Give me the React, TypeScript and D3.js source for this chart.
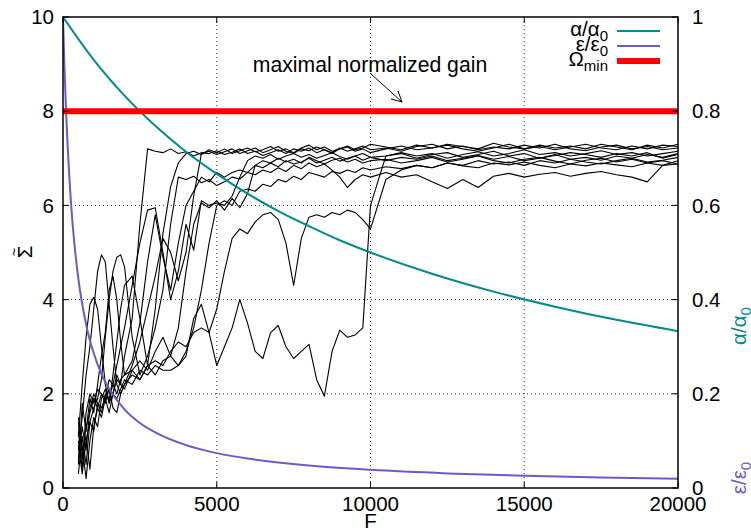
import React from 'react';
import * as d3 from 'd3';

const W = 751;
const H = 531;
const PLOT = { left: 63, right: 678, top: 17, bottom: 488 };
const FONT = '"Liberation Sans", Arial, Helvetica, sans-serif';

// Sampling positions (F) shared by all the Σ̃ runs
const fGrid = [
  500, 625, 750, 875, 1000, 1125, 1250, 1375, 1500, 1625, 1750, 1875, 2000,
  2250, 2500, 2750, 3000, 3250, 3500, 3750, 4000, 4250, 4500, 4750, 5000, 5250, 5500, 5750,
  6000, 6250, 6500, 6750, 7000, 7250, 7500, 7750, 8000, 8250, 8500, 8750, 9000, 9250, 9500, 9750, 10000,
  10500, 11000, 11500, 12000, 12500, 13000, 13500, 14000, 14500, 15000, 15500, 16000, 16500,
  17000, 17500, 18000, 18500, 19000, 19500, 20000,
];

// Σ̃ for each run, one value per fGrid entry
const run1 = [
  1.0, 0.6, 1.3, 1.6, 1.9, 1.7, 2.0, 1.8, 2.1, 2.0, 2.3, 2.2, 2.8,
  3.6, 5.6, 7.2, 7.15, 7.12, 7.2, 7.1, 7.14, 7.05, 7.12, 7.1, 7.16, 7.08, 7.13, 7.2, 7.1, 7.15, 7.06, 7.12,
  7.18, 7.1, 7.2, 7.15, 7.22, 7.12, 7.18, 7.1, 7.2, 7.24, 7.15, 7.2, 7.12,
  7.2, 7.26, 7.18, 7.22, 7.28, 7.2, 7.15, 7.22, 7.3, 7.2, 7.25, 7.18, 7.24, 7.3, 7.22, 7.18, 7.26, 7.2, 7.28, 7.25,
];
const run2 = [
  0.8, 1.5, 2.4, 3.0, 3.8, 4.6, 4.95, 4.8, 3.9, 3.0, 2.2, 2.0, 2.2,
  2.6, 3.1, 3.8, 4.5, 5.3, 5.0, 4.4, 5.0, 6.2, 7.1, 7.15, 7.08, 7.14, 7.2, 7.1, 7.16, 7.22, 7.12, 7.18,
  7.25, 7.15, 7.1, 7.2, 7.16, 7.24, 7.18, 7.12, 7.22, 7.15, 7.2, 7.26, 7.18,
  7.22, 7.15, 7.25, 7.3, 7.2, 7.26, 7.18, 7.24, 7.2, 7.28, 7.22, 7.3, 7.2, 7.16, 7.24, 7.28, 7.2, 7.25, 7.18, 7.22,
];
const run3 = [
  0.3, 1.1, 0.5, 1.4, 1.7, 1.9, 2.3, 3.2, 4.0, 4.6, 4.9, 4.95, 4.7,
  3.2, 2.4, 2.8, 3.4, 4.2, 5.6, 6.6, 6.55, 6.62, 6.48, 6.55, 6.42, 6.5, 6.6, 6.56, 6.7, 6.65, 6.75, 6.7,
  6.8, 6.72, 6.85, 6.78, 6.9, 6.82, 6.88, 6.75, 6.6, 6.38, 6.55, 6.65, 6.6,
  6.7, 6.6, 6.65, 6.5, 6.36, 6.55, 6.38, 6.62, 6.68, 6.6, 6.66, 6.7, 6.62, 6.68, 6.72, 6.65, 6.6, 6.5, 6.85, 6.95,
];
const run4 = [
  1.2, 0.4, 1.6, 2.0, 1.8, 2.1, 2.0, 1.9, 2.3, 2.2, 2.6, 3.0, 3.4,
  4.3, 5.2, 5.9, 5.95, 5.0, 4.0, 4.6, 5.6, 5.05, 6.1, 6.0, 6.05, 6.0, 6.2, 6.6, 6.95, 7.05, 7.0, 7.08,
  6.98, 7.05, 7.1, 7.02, 7.08, 7.0, 7.06, 7.12, 7.04, 6.98, 7.05, 7.1, 7.02,
  7.05, 7.1, 7.0, 7.08, 7.12, 7.02, 7.08, 7.15, 7.05, 7.1, 7.0, 7.06, 7.12, 7.08, 7.02, 7.1, 7.05, 7.12, 7.0, 7.08,
];
const run5 = [
  1.5, 0.9, 0.2, 1.0, 1.5, 1.3, 1.9, 2.1, 1.8, 2.0, 2.4, 2.2, 2.1,
  2.5, 2.7, 2.5, 2.9, 3.2, 2.8, 3.4, 4.6, 5.6, 6.05, 5.95, 6.1, 5.9, 6.15, 5.95, 6.25, 6.85, 6.95, 6.9,
  7.0, 6.92, 6.98, 6.9, 7.02, 6.95, 6.88, 6.96, 7.0, 6.92, 6.98, 6.9, 6.95,
  6.98, 6.9, 6.95, 7.02, 6.92, 6.98, 7.05, 6.95, 6.9, 6.98, 7.02, 6.94, 6.88, 6.96, 7.0, 6.92, 6.98, 6.9, 6.95, 6.88,
];
const run6 = [
  0.6, 1.3, 0.8, 1.7, 2.0, 1.8, 1.6, 2.0, 1.9, 2.2, 2.0, 2.3, 2.4,
  2.5, 2.3, 2.6, 2.7, 2.6, 2.9, 3.1, 3.0, 3.3, 3.4, 3.3, 3.8, 4.6, 5.3, 5.5, 5.4, 5.65, 5.8, 5.85,
  5.7, 5.2, 4.3, 5.3, 5.75, 5.8, 5.75, 5.85, 5.8, 5.9, 5.85, 5.7, 5.5,
  6.55, 6.75, 6.85, 6.8, 6.9, 6.85, 6.95, 6.88, 6.92, 6.85, 6.95, 6.9, 6.98, 6.92, 6.88, 6.95, 7.0, 6.92, 6.96, 7.02,
];
const run7 = [
  0.9, 0.3, 1.0, 1.4, 1.2, 1.8, 1.7, 1.9, 1.6, 2.0, 1.9, 2.1, 2.3,
  2.2, 2.5, 2.4, 2.6, 2.5, 2.5, 2.6, 2.8, 3.6, 3.9, 3.3, 2.6, 3.0, 3.4, 4.0, 3.5, 2.9, 2.75, 3.3,
  3.45, 3.0, 2.75, 2.9, 3.05, 2.3, 1.95, 2.9, 3.35, 3.2, 3.25, 3.4, 6.0,
  7.05, 7.12, 7.05, 7.1, 7.0, 7.08, 7.14, 7.05, 7.1, 7.18, 7.08, 7.12, 7.05, 7.1, 7.16, 7.08, 7.12, 7.05, 7.1, 7.15,
];
const run8 = [
  1.1, 2.2, 3.2, 3.9, 4.05, 3.8, 3.0, 2.2, 1.8, 2.4, 3.1, 3.8, 4.3,
  4.5, 3.6, 2.6, 3.8, 5.4, 6.4, 6.9, 7.1, 7.15, 7.08, 7.18, 7.12, 7.2, 7.1, 7.16, 7.22, 7.14, 7.18, 7.25,
  7.15, 7.2, 7.12, 7.22, 7.28, 7.18, 7.24, 7.15, 7.2, 7.26, 7.18, 7.22, 7.3,
  7.24, 7.18, 7.28, 7.22, 7.3, 7.25, 7.2, 7.32, 7.24, 7.2, 7.28, 7.22, 7.26, 7.2, 7.3, 7.24, 7.18, 7.28, 7.22, 7.3,
];
const run9 = [
  0.5, 1.8, 1.2, 1.9, 1.6, 2.2, 2.8, 3.3, 4.2, 4.5, 4.0, 3.1, 2.4,
  2.7, 3.5, 4.8, 5.8, 4.9, 4.2, 5.2, 6.0, 6.3, 6.6, 6.5, 6.7, 6.6, 6.7, 6.75, 6.7, 6.85, 6.8, 6.9,
  6.82, 6.95, 6.88, 6.92, 7.0, 6.9, 6.96, 7.02, 6.94, 7.0, 7.05, 6.96, 7.02,
  6.95, 7.02, 6.98, 7.05, 6.95, 7.0, 7.06, 6.98, 7.04, 6.95, 7.0, 7.08, 6.98, 7.02, 6.96, 7.05, 7.0, 7.08, 7.02, 7.1,
];
const run10 = [
  1.4, 0.7, 1.1, 0.4, 1.3, 1.7, 1.5, 1.9, 2.1, 1.7, 1.6, 2.0, 2.2,
  2.4, 2.3, 2.6, 2.4, 2.7, 2.8, 2.6, 2.9, 3.4, 4.2, 5.2, 6.0, 6.1, 6.0, 6.3, 6.35, 6.3, 6.45, 6.4,
  6.55, 6.5, 6.62, 6.55, 6.7, 6.65, 6.6, 6.72, 6.68, 6.75, 6.7, 6.8, 6.75,
  6.82, 6.78, 6.85, 6.8, 6.9, 6.84, 6.8, 6.9, 6.86, 6.92, 6.85, 6.8, 6.88, 6.84, 6.9, 6.86, 6.82, 6.9, 6.85, 6.88,
];
const runs = [run1, run2, run3, run4, run5, run6, run7, run8, run9, run10];

// α/α0 decay (right axis)
const alphaF = [0, 1000, 2000, 3000, 4000, 5000, 6000, 7000, 8000, 9000, 10000, 12000, 14000, 16000, 18000, 20000];
const alphaVals = [1, 0.909, 0.833, 0.769, 0.714, 0.667, 0.625, 0.588, 0.556, 0.526, 0.5, 0.455, 0.417, 0.385, 0.357, 0.333];

// ε/ε0 decay (right axis)
const epsF = [0, 50, 100, 150, 200, 300, 400, 500, 600, 800, 1000, 1250, 1500, 2000, 2500, 3000, 4000, 5000, 6000, 8000, 10000, 12500, 15000, 17500, 20000];
const epsVals = [1, 0.889, 0.8, 0.727, 0.667, 0.571, 0.5, 0.444, 0.4, 0.333, 0.286, 0.242, 0.211, 0.167, 0.138, 0.118, 0.091, 0.074, 0.0625, 0.0476, 0.0385, 0.031, 0.026, 0.0223, 0.0196];

const omegaMin = 8;

const xTicks = [0, 5000, 10000, 15000, 20000];
const yTicks = [0, 2, 4, 6, 8, 10];
const y2Ticks = [0, 0.2, 0.4, 0.6, 0.8, 1];
const y2TickLabels = ['0', '0.2', '0.4', '0.6', '0.8', '1'];

const TEAL = '#008b8b';
const PURPLE = '#6a5acd';
const RED = '#ff0000';

export default function App() {
  const x = d3.scaleLinear().domain([0, 20000]).range([PLOT.left, PLOT.right]);
  const y = d3.scaleLinear().domain([0, 10]).range([PLOT.bottom, PLOT.top]);
  const y2 = d3.scaleLinear().domain([0, 1]).range([PLOT.bottom, PLOT.top]);

  const runLine = d3
    .line<number>()
    .x((_, i) => x(fGrid[i]))
    .y((v) => y(v));

  const smooth = (fs: number[], vs: number[]) =>
    d3
      .line<number>()
      .x((_, i) => x(fs[i]))
      .y((v) => y2(v))
      .curve(d3.curveMonotoneX)(vs) as string;

  const gridX = xTicks.filter((t) => t > 0 && t < 20000);
  const gridY = yTicks.filter((t) => t > 0 && t < 10);
  const tick = 6;

  return (
    <svg
      width={W}
      height={H}
      style={{ position: 'absolute', left: 0, top: 0, background: '#fff' }}
      fontFamily={FONT}
    >
      <defs>
        <clipPath id="plotArea">
          <rect x={PLOT.left} y={PLOT.top} width={PLOT.right - PLOT.left} height={PLOT.bottom - PLOT.top} />
        </clipPath>
      </defs>

      {/* dotted grid */}
      <g stroke="#333" strokeWidth={1} strokeDasharray="1,3">
        {gridX.map((t) => (
          <line key={'gx' + t} x1={x(t)} x2={x(t)} y1={PLOT.top} y2={PLOT.bottom} />
        ))}
        {gridY.map((t) => (
          <line key={'gy' + t} x1={PLOT.left} x2={PLOT.right} y1={y(t)} y2={y(t)} />
        ))}
      </g>

      {/* Σ̃ runs */}
      <g clipPath="url(#plotArea)" fill="none" stroke="#000" strokeWidth={1.1} strokeLinejoin="round">
        {runs.map((r, i) => (
          <path key={'run' + i} d={runLine(r) as string} />
        ))}
      </g>

      {/* reference curves */}
      <g clipPath="url(#plotArea)" fill="none">
        <path d={smooth(alphaF, alphaVals)} stroke={TEAL} strokeWidth={2} />
        <path d={smooth(epsF, epsVals)} stroke={PURPLE} strokeWidth={2} />
        <line x1={PLOT.left} x2={PLOT.right} y1={y(omegaMin)} y2={y(omegaMin)} stroke={RED} strokeWidth={6} />
      </g>

      {/* frame and ticks */}
      <rect
        x={PLOT.left}
        y={PLOT.top}
        width={PLOT.right - PLOT.left}
        height={PLOT.bottom - PLOT.top}
        fill="none"
        stroke="#000"
        strokeWidth={1.5}
      />
      <g stroke="#000" strokeWidth={1}>
        {xTicks.map((t) => (
          <g key={'xt' + t}>
            <line x1={x(t)} x2={x(t)} y1={PLOT.bottom} y2={PLOT.bottom - tick} />
            <line x1={x(t)} x2={x(t)} y1={PLOT.top} y2={PLOT.top + tick} />
          </g>
        ))}
        {yTicks.map((t) => (
          <line key={'yt' + t} x1={PLOT.left} x2={PLOT.left + tick} y1={y(t)} y2={y(t)} />
        ))}
        {y2Ticks.map((t) => (
          <line key={'y2t' + t} x1={PLOT.right} x2={PLOT.right - tick} y1={y2(t)} y2={y2(t)} />
        ))}
      </g>

      {/* tick labels */}
      <g fontSize={20.5} fill="#000">
        {xTicks.map((t) => (
          <text key={'xl' + t} x={x(t)} y={511} textAnchor="middle">
            {t}
          </text>
        ))}
        {yTicks.map((t) => (
          <text key={'yl' + t} x={54} y={y(t)} dy="0.35em" textAnchor="end">
            {t}
          </text>
        ))}
        {y2Ticks.map((t, i) => (
          <text key={'y2l' + t} x={692} y={y2(t)} dy="0.35em" textAnchor="start">
            {y2TickLabels[i]}
          </text>
        ))}
      </g>

      {/* axis titles */}
      <text x={(PLOT.left + PLOT.right) / 2} y={528} fontSize={20.5} textAnchor="middle">
        F
      </text>
      <g transform="translate(32,252) rotate(-90)">
        <text x={0} y={0} fontSize={20.5} textAnchor="middle">
          Σ
        </text>
        <text x={0} y={-13} fontSize={14} textAnchor="middle">
          ~
        </text>
      </g>
      <g transform="translate(746,326) rotate(-90)" fill={TEAL}>
        <text x={0} y={0} fontSize={20.5} textAnchor="middle">
          α/α<tspan fontSize={15} dy={5}>0</tspan>
        </text>
      </g>
      <g transform="translate(746,478) rotate(-90)" fill={PURPLE}>
        <text x={0} y={0} fontSize={20.5} textAnchor="middle">
          ε/ε<tspan fontSize={15} dy={5}>0</tspan>
        </text>
      </g>

      {/* legend */}
      <g fontSize={20.5}>
        <text x={608} y={36} textAnchor="end">
          α/α<tspan fontSize={15} dy={5}>0</tspan>
        </text>
        <line x1={617} x2={660} y1={31} y2={31} stroke={TEAL} strokeWidth={2} />
        <text x={608} y={51} textAnchor="end">
          ε/ε<tspan fontSize={15} dy={5}>0</tspan>
        </text>
        <line x1={617} x2={660} y1={46} y2={46} stroke={PURPLE} strokeWidth={2} />
        <text x={608} y={66} textAnchor="end">
          Ω<tspan fontSize={15} dy={5}>min</tspan>
        </text>
        <line x1={617} x2={660} y1={61} y2={61} stroke={RED} strokeWidth={6} />
      </g>

      {/* annotation */}
      <text x={370} y={72} fontSize={21.2} textAnchor="middle">
        maximal normalized gain
      </text>
      <g stroke="#000" strokeWidth={1} fill="none">
        <line x1={370} y1={73} x2={402} y2={102} />
        <polyline points="391,99 402,102 398,91" />
      </g>
    </svg>
  );
}
